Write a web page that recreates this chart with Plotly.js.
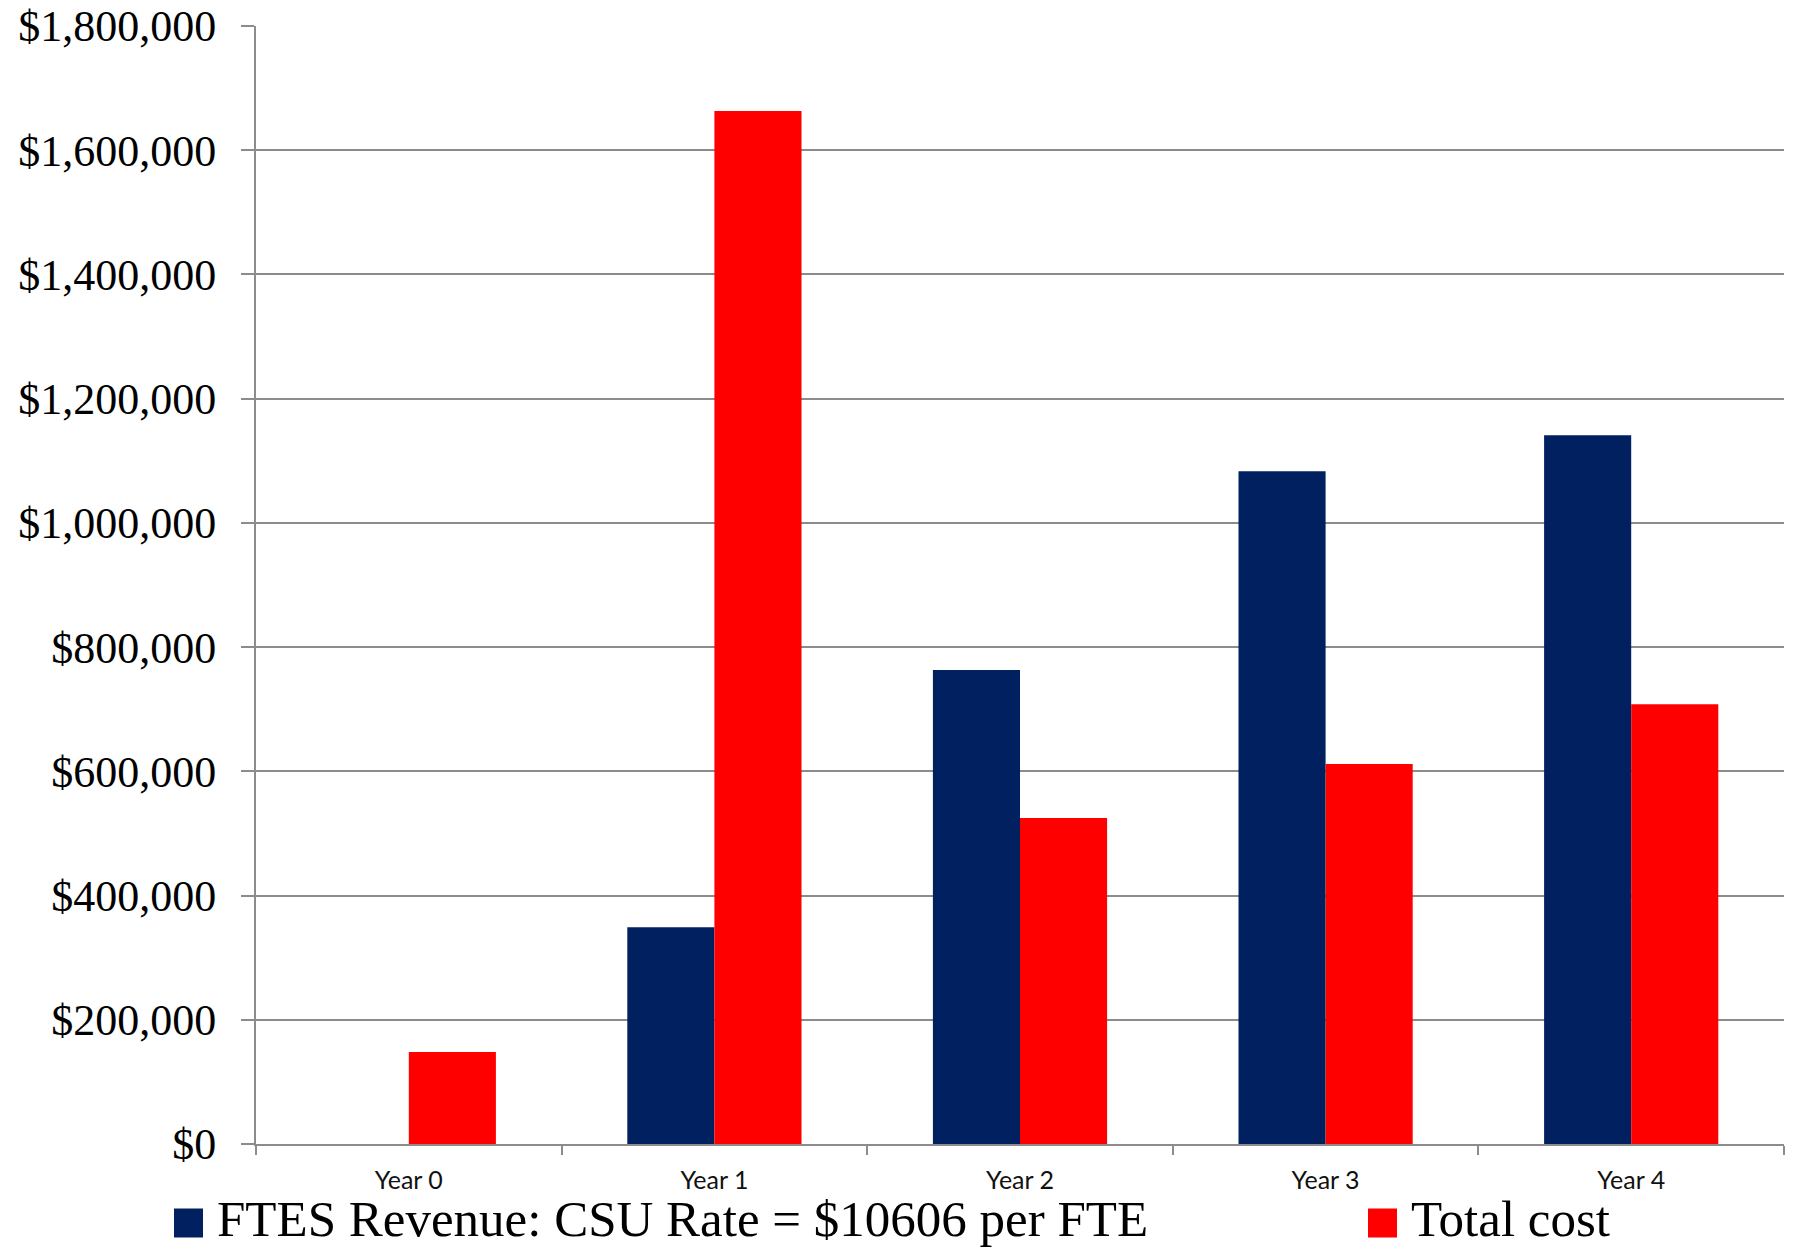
<!DOCTYPE html>
<html>
<head>
<meta charset="utf-8">
<script src="https://cdn.plot.ly/plotly-3.0.1.min.js"></script>
<style>
  html, body { margin: 0; padding: 0; background: #ffffff; }
  #chart { width: 1795px; height: 1251px; }
</style>
</head>
<body>
<div id="chart"></div>
<script>
// ---- Data ----
const categories = ["Year 0", "Year 1", "Year 2", "Year 3", "Year 4"];
const seriesNames = ["FTES Revenue: CSU Rate = $10606 per FTE", "Total cost"];
const ftesRevenue = [0, 349000, 763000, 1083000, 1141000];
const totalCost = [148000, 1663000, 525000, 612000, 708000];
const seriesColors = ["#002060", "#FF0000"];
const yTickValues = [0, 200000, 400000, 600000, 800000, 1000000, 1200000, 1400000, 1600000, 1800000];
const yTickLabels = ["$0", "$200,000", "$400,000", "$600,000", "$800,000", "$1,000,000", "$1,200,000", "$1,400,000", "$1,600,000", "$1,800,000"];

// ---- Layout geometry (pixels) ----
const W = 1795, H = 1251;
const M = { l: 256, r: 11, t: 26, b: 107 };
const plotW = W - M.l - M.r, plotH = H - M.t - M.b;
const px2x = p => (p - M.l) / plotW;
const py2y = p => (H - M.b - p) / plotH;

const traces = [
  { type: "bar", name: seriesNames[0], x: categories, y: ftesRevenue,
    marker: { color: seriesColors[0], line: { width: 0 } }, showlegend: false },
  { type: "bar", name: seriesNames[1], x: categories, y: totalCost,
    marker: { color: seriesColors[1], line: { width: 0 } }, showlegend: false }
];

// legend drawn as swatches + text
const legendPos = [
  { sx: 174, tx: 216 },
  { sx: 1368, tx: 1410 }
];
const sw = 29, swCY = 1223, textCY = 1219;
const shapes = [], annotations = [];
seriesNames.forEach((n, i) => {
  shapes.push({
    type: "rect", xref: "paper", yref: "paper",
    x0: px2x(legendPos[i].sx), x1: px2x(legendPos[i].sx + sw),
    y0: py2y(swCY + sw / 2), y1: py2y(swCY - sw / 2),
    fillcolor: seriesColors[i], line: { width: 0 }
  });
  annotations.push({
    xref: "paper", yref: "paper", x: px2x(legendPos[i].tx), y: py2y(textCY),
    xanchor: "left", yanchor: "middle", showarrow: false, text: n,
    borderpad: 0,
    font: { family: "Liberation Serif, serif", size: 51, color: "#000000" }
  });
});

const layout = {
  width: W, height: H,
  margin: M,
  paper_bgcolor: "#ffffff", plot_bgcolor: "#ffffff",
  barmode: "group", bargap: 0.43, bargroupgap: 0,
  showlegend: false,
  xaxis: {
    type: "category",
    showline: true, linecolor: "#8c8c8c", linewidth: 2,
    ticks: "outside", tickson: "boundaries", ticklen: 9, tickcolor: "#8c8c8c", tickwidth: 2,
    showgrid: false, zeroline: false,
    tickfont: { family: "Lato, sans-serif", size: 25, color: "#111111" },
    ticklabelstandoff: 13,
    fixedrange: true
  },
  yaxis: {
    range: [0, 1800000],
    tickmode: "array",
    tickvals: yTickValues,
    ticktext: yTickLabels,
    showline: true, linecolor: "#8c8c8c", linewidth: 2,
    ticks: "outside", ticklen: 13, tickcolor: "#8c8c8c", tickwidth: 2,
    showgrid: true, gridcolor: "#8c8c8c", gridwidth: 2,
    zeroline: false,
    tickfont: { family: "Liberation Serif, serif", size: 44, color: "#000000" },
    ticklabelstandoff: 16,
    fixedrange: true
  },
  shapes: shapes,
  annotations: annotations
};

Plotly.newPlot("chart", traces, layout, { displayModeBar: false, staticPlot: true });
</script>
</body>
</html>
